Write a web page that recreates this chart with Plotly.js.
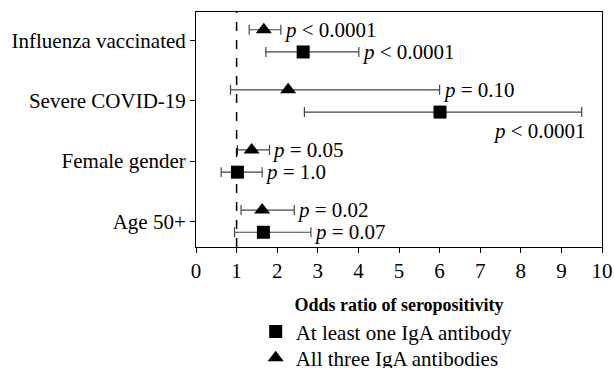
<!DOCTYPE html>
<html>
<head>
<meta charset="utf-8">
<script src="https://cdn.plot.ly/plotly-3.0.1.min.js"></script>
<style>body{margin:0;background:#fff}#chart{width:614px;height:368px}</style>
</head>
<body>
<div id="chart"></div>
<script>
const categories = ['Influenza vaccinated', 'Severe COVID-19', 'Female gender', 'Age 50+'];

// All three IgA antibodies (triangles)
const triOR    = [1.67, 2.27, 1.37, 1.63];
const triLower = [1.31, 0.85, 1.02, 1.11];
const triUpper = [2.09, 6.00, 1.81, 2.42];
const triP     = ['< 0.0001', '= 0.10', '= 0.05', '= 0.02'];

// At least one IgA antibody (squares)
const sqOR    = [2.64, 6.01, 1.02, 1.66];
const sqLower = [1.72, 2.67, 0.62, 0.95];
const sqUpper = [4.01, 9.50, 1.63, 2.83];
const sqP     = ['< 0.0001', '< 0.0001', '= 1.0', '= 0.07'];

const xTicks = [0,1,2,3,4,5,6,7,8,9,10];
const refLine = 1;

const FONT = '"Liberation Serif", "Times New Roman", serif';

function esc(s){ return s.replace('<','&lt;'); }

const sqTrace = {
  type: 'scatter', mode: 'markers', orientation: 'h',
  name: 'At least one IgA antibody', legend: 'legend',
  x: sqOR, y: categories,
  marker: {symbol: 'square', size: 13, color: '#000'},
  error_x: {type: 'data', symmetric: false,
    array: sqUpper.map((u,i)=>u - sqOR[i]),
    arrayminus: sqLower.map((l,i)=>sqOR[i] - l),
    color: '#444', thickness: 1.2, width: 5},
  hoverinfo: 'skip'
};
const triTrace = {
  type: 'scatter', mode: 'markers', orientation: 'h',
  name: 'All three IgA antibodies', legend: 'legend2',
  x: triOR, y: categories,
  marker: {symbol: 'triangle-up', size: 14, color: '#000'},
  error_x: {type: 'data', symmetric: false,
    array: triUpper.map((u,i)=>u - triOR[i]),
    arrayminus: triLower.map((l,i)=>triOR[i] - l),
    color: '#444', thickness: 1.2, width: 5},
  hoverinfo: 'skip'
};

const annotations = [];
categories.forEach((c,i)=>{
  annotations.push({x: triUpper[i], y: c, xref: 'x', yref: 'y', yshift: 11, xshift: 1,
    xanchor: 'left', yanchor: 'middle', showarrow: false,
    text: '<i>p</i> ' + esc(triP[i]), font: {family: FONT, size: 21, color: '#000'}});
  if (i === 1) {
    annotations.push({x: sqUpper[i], y: c, xref: 'x', yref: 'y', yshift: -30, xshift: 6,
      xanchor: 'right', yanchor: 'middle', showarrow: false,
      text: '<i>p</i> ' + esc(sqP[i]), font: {family: FONT, size: 21, color: '#000'}});
  } else {
    annotations.push({x: sqUpper[i], y: c, xref: 'x', yref: 'y', yshift: -11, xshift: 1,
      xanchor: 'left', yanchor: 'middle', showarrow: false,
      text: '<i>p</i> ' + esc(sqP[i]), font: {family: FONT, size: 21, color: '#000'}});
  }
});

const layout = {
  width: 614, height: 368,
  margin: {l: 196, r: 12, t: 12, b: 121, autoexpand: false},
  paper_bgcolor: '#fff', plot_bgcolor: '#fff',
  font: {family: FONT, size: 21, color: '#000'},
  scattermode: 'group', scattergap: 0.26,
  showlegend: true,
  xaxis: {
    range: [0, 10], tickvals: xTicks, ticktext: xTicks.map(String),
    ticks: 'outside', ticklen: 5, tickcolor: '#000',
    showline: true, linecolor: '#000', linewidth: 1, mirror: true,
    showgrid: false, zeroline: false,
    tickfont: {family: FONT, size: 21},
    title: {text: 'Odds ratio of seropositivity', font: {family: FONT, size: 18, weight: 'bold'}, standoff: 16}
  },
  yaxis: {
    type: 'category', categoryorder: 'array', categoryarray: categories.slice().reverse(),
    range: [-0.43, 3.48],
    ticks: 'outside', ticklen: 5, tickcolor: '#000',
    showline: true, linecolor: '#000', linewidth: 1, mirror: true,
    showgrid: false, zeroline: false,
    tickfont: {family: FONT, size: 21}
  },
  shapes: [{type: 'line', xref: 'x', yref: 'paper', x0: refLine, x1: refLine, y0: 0, y1: 1,
    line: {color: '#000', width: 1.5, dash: 'dash'}}],
  annotations: annotations,
  legend: {x: 0.147, y: -0.274, xanchor: 'left', yanchor: 'top', bgcolor: 'rgba(0,0,0,0)',
    font: {family: FONT, size: 21}},
  legend2: {x: 0.147, y: -0.386, xanchor: 'left', yanchor: 'top', bgcolor: 'rgba(0,0,0,0)',
    font: {family: FONT, size: 21}}
};

Plotly.newPlot('chart', [sqTrace, triTrace], layout, {displayModeBar: false, staticPlot: true});
</script>
</body>
</html>
